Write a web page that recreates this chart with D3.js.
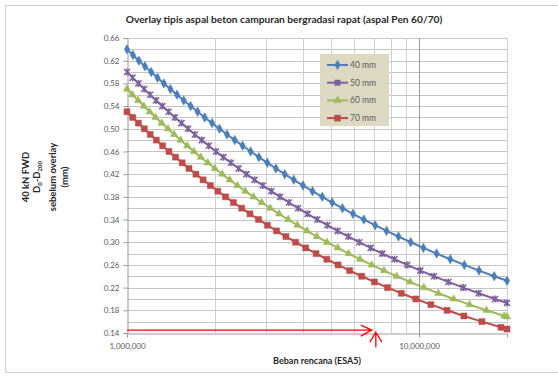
<!DOCTYPE html>
<meta charset="utf-8" />
<script src="https://d3js.org/d3.v7.min.js"></script>
<style>
  body { margin: 0; background: #fff; }
  text { font-family: Lato, 'Liberation Sans', sans-serif; }
</style>
<div id="chart"></div>
<script>
  // beban rencana in juta ESA, lendutan D0-D200 in mm
  const esa40 = [1.000, 1.048, 1.098, 1.152, 1.210, 1.272, 1.337, 1.408, 1.483, 1.564, 1.651, 1.745, 1.846, 1.955,
    2.073, 2.200, 2.338, 2.488, 2.651, 2.829, 3.023, 3.235, 3.468, 3.724, 4.005, 4.316, 4.660, 5.041, 5.465, 5.939,
    6.471, 7.070, 7.739, 8.500, 9.364, 10.35, 11.48, 12.79, 14.29, 16.04, 18.09, 20.0];
  const d40 = [0.64, 0.63, 0.62, 0.61, 0.60, 0.59, 0.58, 0.57, 0.56, 0.55, 0.54, 0.53, 0.52, 0.51, 0.50, 0.49, 0.48,
    0.47, 0.46, 0.45, 0.44, 0.43, 0.42, 0.41, 0.40, 0.39, 0.38, 0.37, 0.36, 0.35, 0.34, 0.33, 0.32, 0.31, 0.30, 0.29,
    0.28, 0.27, 0.26, 0.25, 0.24, 0.232];

  const esa50 = [1.000, 1.045, 1.094, 1.145, 1.200, 1.258, 1.321, 1.388, 1.459, 1.536, 1.618, 1.707, 1.803, 1.906,
    2.017, 2.138, 2.269, 2.411, 2.565, 2.734, 2.918, 3.120, 3.342, 3.585, 3.854, 4.152, 4.483, 4.852, 5.260, 5.721,
    6.239, 6.823, 7.486, 8.239, 9.103, 10.10, 11.25, 12.59, 14.16, 16.00, 18.20, 20.0];
  const d50 = [0.60, 0.59, 0.58, 0.57, 0.56, 0.55, 0.54, 0.53, 0.52, 0.51, 0.50, 0.49, 0.48, 0.47, 0.46, 0.45, 0.44,
    0.43, 0.42, 0.41, 0.40, 0.39, 0.38, 0.37, 0.36, 0.35, 0.34, 0.33, 0.32, 0.31, 0.30, 0.29, 0.28, 0.27, 0.26, 0.25,
    0.24, 0.23, 0.22, 0.21, 0.20, 0.193];

  const esa60 = [1.000, 1.044, 1.092, 1.142, 1.196, 1.253, 1.314, 1.380, 1.450, 1.526, 1.607, 1.694, 1.788, 1.890,
    1.999, 2.118, 2.248, 2.388, 2.542, 2.710, 2.893, 3.094, 3.317, 3.562, 3.833, 4.133, 4.468, 4.843, 5.266, 5.739,
    6.278, 6.886, 7.583, 8.383, 9.308, 10.38, 11.64, 13.13, 14.89, 17.01, 19.57, 20.0];
  const d60 = [0.57, 0.56, 0.55, 0.54, 0.53, 0.52, 0.51, 0.50, 0.49, 0.48, 0.47, 0.46, 0.45, 0.44, 0.43, 0.42, 0.41,
    0.40, 0.39, 0.38, 0.37, 0.36, 0.35, 0.34, 0.33, 0.32, 0.31, 0.30, 0.29, 0.28, 0.27, 0.26, 0.25, 0.24, 0.23, 0.22,
    0.21, 0.20, 0.19, 0.18, 0.17, 0.1685];

  const esa70 = [1.000, 1.046, 1.094, 1.146, 1.201, 1.260, 1.324, 1.392, 1.466, 1.545, 1.630, 1.722, 1.822, 1.930,
    2.047, 2.175, 2.314, 2.470, 2.637, 2.821, 3.025, 3.250, 3.500, 3.778, 4.090, 4.440, 4.832, 5.280, 5.785, 6.363,
    7.031, 7.798, 8.695, 9.743, 10.98, 12.47, 14.24, 16.41, 19.08, 20.0];
  const d70 = [0.53, 0.52, 0.51, 0.50, 0.49, 0.48, 0.47, 0.46, 0.45, 0.44, 0.43, 0.42, 0.41, 0.40, 0.39, 0.38, 0.37,
    0.36, 0.35, 0.34, 0.33, 0.32, 0.31, 0.30, 0.29, 0.28, 0.27, 0.26, 0.25, 0.24, 0.23, 0.22, 0.21, 0.20, 0.19, 0.18,
    0.17, 0.16, 0.15, 0.147];

  const seriesNames = ['40 mm', '50 mm', '60 mm', '70 mm'];
  const yTicks = [0.14, 0.18, 0.22, 0.26, 0.30, 0.34, 0.38, 0.42, 0.46, 0.50, 0.54, 0.58, 0.62, 0.66];
  const yGrid = [0.16, 0.18, 0.20, 0.22, 0.24, 0.26, 0.28, 0.30, 0.32, 0.34, 0.36, 0.38, 0.40, 0.42, 0.44, 0.46,
    0.48, 0.50, 0.52, 0.54, 0.56, 0.58, 0.60, 0.62, 0.64, 0.66];
  const xTicks = [1, 10];
  const xGrid = [2, 3, 4, 5, 6, 7, 8, 9, 20];
  // red arrow annotation: ESA 7 juta, D 0.145 mm
  const arrowEsa = 7;
  const arrowD = 0.145;

  const W = 558, H = 376;
  const svg = d3.select('#chart').append('svg').attr('width', W).attr('height', H);

  svg.append('rect')
    .attr('x', 5.5).attr('y', 5.5).attr('width', 570).attr('height', 367)
    .attr('fill', '#fff').attr('stroke', '#d0d0d0');

  const x = d3.scaleLog().domain([1, 20]).range([127, 507]);
  const y = d3.scaleLinear().domain([0.14, 0.66]).range([333, 38]);

  // gridlines
  svg.append('g').selectAll('line').data(yGrid).join('line')
    .attr('x1', x(1)).attr('x2', x(20))
    .attr('y1', (d) => Math.round(y(d)) + 0.5).attr('y2', (d) => Math.round(y(d)) + 0.5)
    .attr('stroke', '#c4c4c4');
  svg.append('g').selectAll('line').data(xGrid).join('line')
    .attr('x1', (d) => Math.round(x(d)) + 0.5).attr('x2', (d) => Math.round(x(d)) + 0.5)
    .attr('y1', y(0.66)).attr('y2', y(0.14))
    .attr('stroke', '#d0d0d0');
  svg.append('line')
    .attr('x1', Math.round(x(10)) + 0.5).attr('x2', Math.round(x(10)) + 0.5)
    .attr('y1', y(0.66)).attr('y2', y(0.14) + 4)
    .attr('stroke', '#9a9a9a');

  // axes
  const yAxis = svg.append('g')
    .attr('transform', `translate(${Math.round(x(1)) + 0.5},0)`)
    .call(d3.axisLeft(y).tickValues(yTicks).tickFormat(d3.format('.2f')).tickSize(4).tickPadding(4));
  yAxis.select('.domain').attr('stroke', '#9a9a9a');
  yAxis.selectAll('line').attr('stroke', '#9a9a9a');
  yAxis.selectAll('text').attr('fill', '#595959').style('font-size', '8px');

  const xAxis = svg.append('g')
    .attr('transform', `translate(0,${Math.round(y(0.14)) + 0.5})`)
    .call(d3.axisBottom(x).tickValues(xTicks).tickFormat((d) => d3.format(',')(d * 1e6)).tickSize(4).tickPadding(6));
  xAxis.select('.domain').attr('stroke', '#9a9a9a');
  xAxis.selectAll('line').attr('stroke', '#9a9a9a');
  xAxis.selectAll('text').attr('fill', '#595959').style('font-size', '8px');

  const series = [
    { name: seriesNames[0], esa: esa40, d: d40, color: '#4a7ebb', marker: 'diamond' },
    { name: seriesNames[1], esa: esa50, d: d50, color: '#7d60a0', marker: 'star' },
    { name: seriesNames[2], esa: esa60, d: d60, color: '#9bbb59', marker: 'triangle' },
    { name: seriesNames[3], esa: esa70, d: d70, color: '#be4b48', marker: 'square' },
  ];

  const symbols = {
    diamond: d3.symbol().type(d3.symbolDiamond).size(26),
    triangle: d3.symbol().type(d3.symbolTriangle).size(24),
    square: d3.symbol().type(d3.symbolSquare).size(36),
    star: () => 'M-3,-3L3,3M-3,3L3,-3M0,-3.5L0,3.5',
  };

  const line = d3.line().x((p) => x(p[0])).y((p) => y(p[1]));

  series.forEach(function (s) {
    const pts = s.esa.map((e, i) => [e, s.d[i]]);
    svg.append('path')
      .datum(pts)
      .attr('d', line)
      .attr('fill', 'none')
      .attr('stroke', s.color)
      .attr('stroke-width', 2);
    svg.append('g').selectAll('path').data(pts).join('path')
      .attr('transform', (p) => `translate(${x(p[0])},${y(p[1])})`)
      .attr('d', symbols[s.marker]())
      .attr('fill', s.color)
      .attr('stroke', s.color)
      .attr('stroke-width', s.marker == 'star' ? 1.6 : 0.5);
  });

  // legend
  const lg = svg.append('g').attr('transform', 'translate(320,54)');
  lg.append('rect').attr('width', 69).attr('height', 72).attr('fill', '#ddd9c3');
  series.forEach(function (s, i) {
    const ly = 11 + i * 17.7;
    lg.append('line').attr('x1', 7).attr('x2', 28).attr('y1', ly).attr('y2', ly)
      .attr('stroke', s.color).attr('stroke-width', 2);
    lg.append('path').attr('transform', `translate(17.5,${ly})`)
      .attr('d', s.marker == 'star' ? d3.symbol().type(d3.symbolSquare).size(30)() : symbols[s.marker]())
      .attr('fill', s.color).attr('stroke', s.color).attr('stroke-width', 0.5);
    lg.append('text').attr('x', 30).attr('y', ly + 3)
      .attr('fill', '#595959').style('font-size', '8.5px').text(s.name);
  });

  // red arrows
  const red = svg.append('g').attr('stroke', '#ff0000').attr('stroke-width', 1.3).attr('fill', 'none');
  const ax = x(arrowEsa), ay = y(arrowD);
  red.append('path').attr('d', `M${x(1)},${ay}H${ax - 2}M${ax - 13},${ay - 5}L${ax - 2},${ay}L${ax - 13},${ay + 6}`);
  red.append('path').attr('d', `M${ax + 2},${ay + 17}V${ay + 2}M${ax - 4},${ay + 12}L${ax + 2},${ay + 2}L${ax + 8},${ay + 12}`);

  // titles
  svg.append('text').attr('x', 284).attr('y', 23).attr('text-anchor', 'middle')
    .attr('fill', '#262626').style('font-size', '10.2px').style('font-weight', 'bold')
    .text('Overlay tipis aspal beton campuran bergradasi rapat (aspal Pen 60/70)');

  svg.append('text').attr('x', 317).attr('y', 364).attr('text-anchor', 'middle')
    .attr('fill', '#262626').style('font-size', '9px').style('font-weight', 'bold')
    .text('Beban rencana (ESA5)');

  const yt = svg.append('text')
    .attr('transform', 'translate(29,177) rotate(-90)')
    .attr('text-anchor', 'middle').attr('fill', '#262626')
    .style('font-size', '9.5px').style('font-weight', 'bold');
  yt.append('tspan').attr('x', 0).attr('dy', 0).text('40 kN FWD');
  const t2 = yt.append('tspan').attr('x', 0).attr('dy', 11);
  t2.append('tspan').text('D');
  t2.append('tspan').attr('dy', 2).style('font-size', '6px').text('0');
  t2.append('tspan').attr('dy', -2).text('-D');
  t2.append('tspan').attr('dy', 2).style('font-size', '6px').text('200');
  yt.append('tspan').attr('x', 0).attr('dy', 14).text('sebelum overlay');
  yt.append('tspan').attr('x', 0).attr('dy', 12).text('(mm)');
</script>
